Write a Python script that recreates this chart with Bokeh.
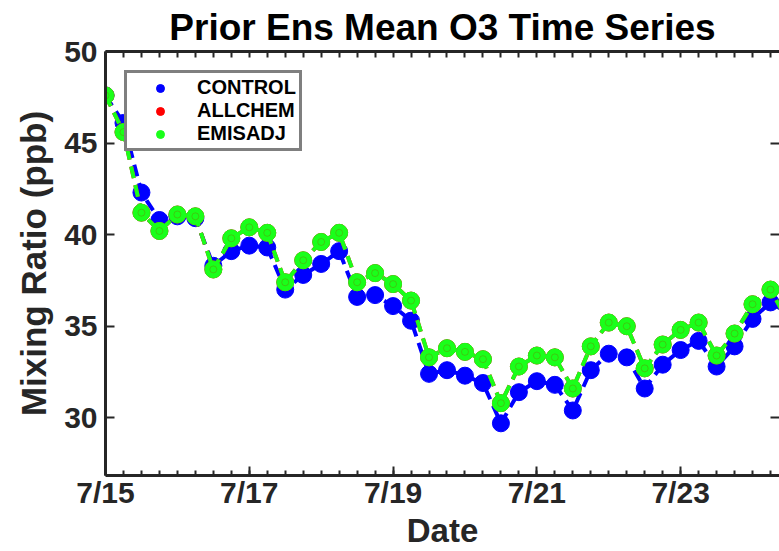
from bokeh.plotting import figure
from bokeh.models import Range1d, FixedTicker, LinearAxis, Legend, LegendItem
from bokeh.embed import file_html
from bokeh.resources import INLINE

# Prior ensemble-mean O3 mixing ratio (ppb), one value every 6 hours from 7/15 00Z
control = [47.6, 46.1, 42.3, 40.8, 41.0, 40.9, 38.3, 39.1, 39.4, 39.3,
           37.0, 37.8, 38.4, 39.1, 36.6, 36.7, 36.1, 35.3, 32.4, 32.6,
           32.3, 31.9, 29.7, 31.4, 32.0, 31.8, 30.4, 32.6, 33.5, 33.3,
           31.6, 32.9, 33.7, 34.2, 32.8, 33.9, 35.4, 36.3, 35.7]
allchem = [47.6, 45.6, 41.2, 40.2, 41.1, 41.0, 38.1, 39.8, 40.4, 40.1,
           37.4, 38.6, 39.6, 40.1, 37.4, 37.9, 37.3, 36.4, 33.3, 33.8,
           33.6, 33.2, 30.8, 32.8, 33.4, 33.3, 31.6, 33.9, 35.2, 35.0,
           32.7, 34.0, 34.8, 35.2, 33.4, 34.6, 36.2, 37.0, 35.2]
emisadj = [47.6, 45.6, 41.2, 40.2, 41.1, 41.0, 38.1, 39.8, 40.4, 40.1,
           37.4, 38.6, 39.6, 40.1, 37.4, 37.9, 37.3, 36.4, 33.3, 33.8,
           33.6, 33.2, 30.8, 32.8, 33.4, 33.3, 31.6, 33.9, 35.2, 35.0,
           32.7, 34.0, 34.8, 35.2, 33.4, 34.6, 36.2, 37.0, 35.2]

step_days = 0.25  # 6-hourly output
days = [i * step_days for i in range(len(control))]

tick_days = [0, 2, 4, 6, 8]
tick_labels = ["7/15", "7/17", "7/19", "7/21", "7/23"]
minor_days = [i * step_days for i in range(40)]
y_ticks = [30, 35, 40, 45, 50]

FONT = "Liberation Sans"
AXIS_COLOR = "#262626"
GREEN = "#1aff1a"

p = figure(width=779, height=551, output_backend="svg", toolbar_location=None,
           x_range=Range1d(0, 9.375), y_range=Range1d(26.85, 50),
           min_border_left=105, min_border_right=0, min_border_top=50,
           min_border_bottom=76, background_fill_color="white",
           border_fill_color="white")
p.outline_line_color = None
p.grid.visible = False

p.title.text = "Prior Ens Mean O3 Time Series"
p.title.align = "center"
p.title.text_font = FONT
p.title.text_font_size = "37px"
p.title.text_font_style = "bold"
p.title.text_color = "black"
p.title.standoff = 8
p.title.offset = 0


def style_axis(ax):
    ax.axis_line_width = 3
    ax.axis_line_color = AXIS_COLOR
    ax.major_tick_line_width = 2
    ax.major_tick_line_color = AXIS_COLOR
    ax.minor_tick_line_width = 2
    ax.minor_tick_line_color = AXIS_COLOR
    ax.major_tick_in = 9
    ax.major_tick_out = 0
    ax.minor_tick_in = 5
    ax.minor_tick_out = 0
    ax.major_label_text_font = FONT
    ax.major_label_text_font_size = "30px"
    ax.major_label_text_font_style = "bold"
    ax.major_label_text_color = AXIS_COLOR
    ax.axis_label_text_font = FONT
    ax.axis_label_text_font_size = "33px"
    ax.axis_label_text_font_style = "bold"
    ax.axis_label_text_color = AXIS_COLOR


xticker = FixedTicker(ticks=tick_days, minor_ticks=minor_days)
yticker = FixedTicker(ticks=y_ticks, minor_ticks=[])

xa = p.xaxis[0]
style_axis(xa)
xa.ticker = xticker
xa.major_label_overrides = dict(zip(tick_days, tick_labels))
xa.axis_label = "Date"
xa.major_label_standoff = 0
xa.axis_label_standoff = 0

ya = p.yaxis[0]
style_axis(ya)
ya.ticker = yticker
ya.axis_label = "Mixing Ratio (ppb)"
ya.axis_label_text_font_size = "35px"
ya.major_label_standoff = 8
ya.axis_label_standoff = 8

# box edges: tick-only axes on top and right (ticks given as minor ticks, so no labels)
top = LinearAxis(ticker=FixedTicker(ticks=[], minor_ticks=minor_days))
style_axis(top)
top.minor_tick_in = 6
p.add_layout(top, "above")

right = LinearAxis(ticker=FixedTicker(ticks=[], minor_ticks=y_ticks))
style_axis(right)
right.axis_line_alpha = 0
right.minor_tick_in = 9
p.add_layout(right, "right")

dash = "12 7"
p.line(days, control, line_color="blue", line_width=4, line_dash=dash)
r_ctl = p.scatter(days, control, size=17, fill_color="blue", line_color="blue")
p.line(days, allchem, line_color="red", line_width=4, line_dash=dash)
r_all = p.scatter(days, allchem, size=17, fill_color="red", line_color="red")
p.line(days, emisadj, line_color=GREEN, line_width=4, line_dash=dash)
r_emi = p.scatter(days, emisadj, size=17, fill_color=GREEN, line_color=GREEN)
p.scatter(days, emisadj, size=7, fill_color=None, line_color="#7a6a00",
          line_alpha=0.35, line_width=1)

legend = Legend(items=[LegendItem(label="CONTROL", renderers=[r_ctl]),
                       LegendItem(label="ALLCHEM", renderers=[r_all]),
                       LegendItem(label="EMISADJ", renderers=[r_emi])],
                location=(19, 324))
legend.border_line_color = "black"
legend.border_line_width = 3
legend.background_fill_color = "white"
legend.background_fill_alpha = 1
legend.padding = 3
legend.margin = 0
legend.spacing = -2
legend.glyph_width = 60
legend.glyph_height = 20
legend.label_height = 20
legend.label_standoff = 7
legend.label_text_font = FONT
legend.label_text_font_size = "20px"
legend.label_text_font_style = "bold"
legend.label_text_line_height = 1.0
legend.label_text_color = "black"
p.add_layout(legend, "center")

open("out.html", "w").write(file_html(p, INLINE))
